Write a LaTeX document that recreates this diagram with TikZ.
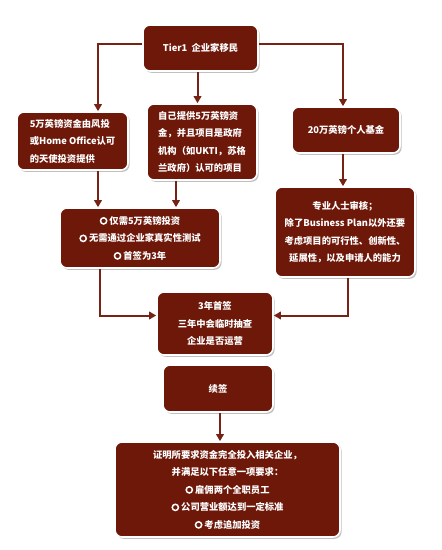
\documentclass[tikz,border=0pt]{standalone}
\usepackage{fontspec}
\setmainfont{Noto Sans CJK SC}
\usetikzlibrary{arrows.meta,shadows,calc}
\definecolor{boxred}{RGB}{110,24,10}
\definecolor{linered}{RGB}{118,34,20}
\newcommand\ringbul{\tikz[baseline=-3.2pt]\draw[white,line width=1.5pt] (0pt,0pt) circle[radius=3.1pt];\hspace{2pt}}
\tikzset{
  box/.style={rectangle, rounded corners=7pt, fill=boxred, draw=white, line width=1.6pt,
    text=white, font=\bfseries\fontsize{9.3}{17.5}\selectfont, align=center, inner sep=0pt,
    drop shadow={shadow xshift=1.6pt, shadow yshift=-1.8pt, fill=black!45, opacity=.55}},
  conn/.style={draw=linered, line width=2pt, -{Triangle[width=7.5pt,length=7pt]}}
}
\begin{document}
\begin{tikzpicture}[x=1pt,y=-1pt]
\useasboundingbox (0,0) rectangle (442,550);
% nodes
\node[box, minimum width=115pt, minimum height=46pt] (t1) at (200.5,48) {Tier1\ \ 企业家移民};
\node[box, minimum width=111pt, minimum height=58pt, align=left] (b2) at (72.5,141) {5万英镑资金由风投\\或Home Office认可\\的天使投资提供};
\node[box, minimum width=110pt, minimum height=76pt, align=left] (b3) at (202,142) {自己提供5万英镑资\\金，并且项目是政府\\机构（如UKTI，苏格\\兰政府）认可的项目};
\node[box, minimum width=108pt, minimum height=46pt] (b4) at (346,130) {20万英镑个人基金};
\node[box, minimum width=160pt, minimum height=60pt] (b5) at (140,238) {\ringbul 仅需5万英镑投资\\\ringbul 无需通过企业家真实性测试\\\ringbul 首签为3年};
\node[box, minimum width=140pt, minimum height=90pt] (b6) at (345,232) {专业人士审核；\\除了Business Plan以外还要\\考虑项目的可行性、创新性、\\延展性，以及申请人的能力};
\node[box, minimum width=116pt, minimum height=63pt] (b7) at (215,323.5) {3年首签\\三年中会临时抽查\\企业是否运营};
\node[box, minimum width=110pt, minimum height=47pt] (b8) at (218,388.5) {续签};
\node[box, minimum width=225pt, minimum height=95pt] (b9) at (227.5,489.5) {证明所要求资金完全投入相关企业，\\并满足以下任意一项要求：\\\ringbul 雇佣两个全职员工\\\ringbul 公司营业额达到一定标准\\\ringbul 考虑追加投资};
% connectors
\draw[conn] ([yshift=4pt]t1.west) -| ([xshift=25.5pt]b2.north);
\draw[conn] ([yshift=4pt]t1.east) -| ([xshift=-3pt]b4.north);
\draw[conn] ([xshift=-3pt]t1.south) -- ([xshift=-3pt]t1.south |- b3.north);
\draw[conn] ([xshift=25.5pt]b2.south) -- ([xshift=25.5pt]b2.south |- b5.north);
\draw[conn] ([xshift=-26pt]b3.south) -- ([xshift=-26pt]b3.south |- b5.north);
\draw[conn] ([xshift=-3pt]b4.south) -- ([xshift=-3pt]b4.south |- b6.north);
\draw[conn] ([xshift=-40pt]b5.south) |- ([yshift=8pt]b7.west);
\draw[conn] ([xshift=3pt]b6.south) |- ([yshift=8pt]b7.east);
\draw[conn] ([xshift=2pt]b8.south) -- ([xshift=2pt]b8.south |- b9.north);
\end{tikzpicture}
\end{document}
